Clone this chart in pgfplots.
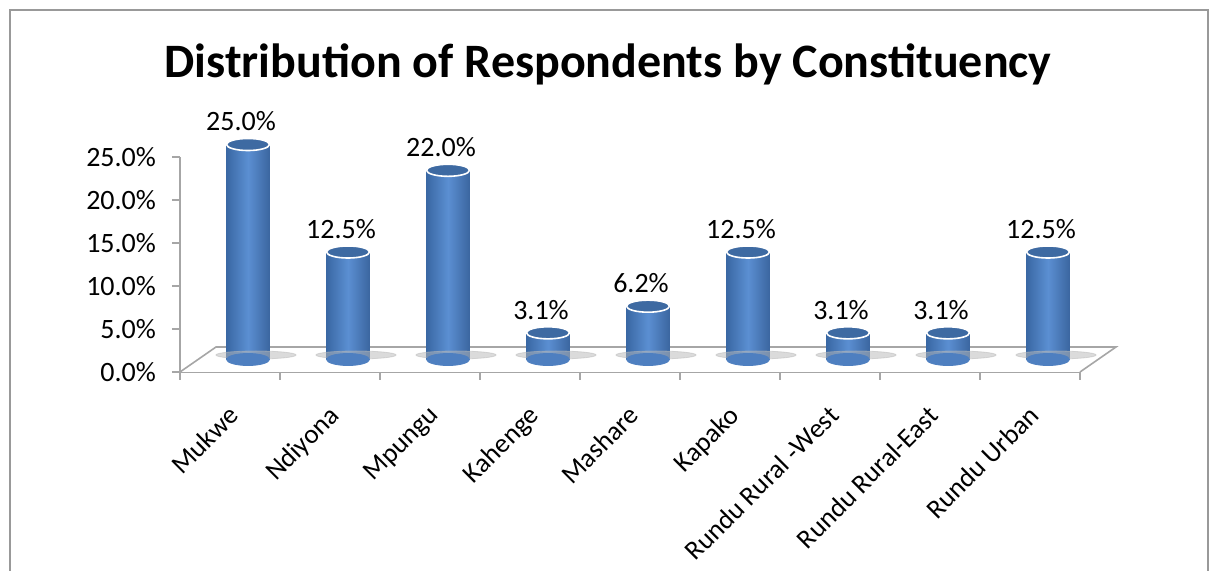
\documentclass[border=0pt]{standalone}
\usepackage{fontspec}
\setmainfont{Carlito}
\usepackage{pgfplots}
\pgfplotsset{compat=1.18}
\definecolor{barL}{HTML}{3A68A4}
\definecolor{barM}{HTML}{5B8FD2}
\definecolor{barR}{HTML}{3B66A0}
\definecolor{topC}{HTML}{3E6AA2}
\definecolor{axgray}{HTML}{A6A6A6}
\colorlet{botC}{barM!60!barL}
\colorlet{shadC}{gray!55}
\pgfplotsset{
  cyl/.style={ybar, bar width=21.5pt, bar shift=0pt, draw=none, xshift=9pt, yshift=6.25pt,
    left color=barL, right color=barR, middle color=barM},
}
\begin{document}
\begin{tikzpicture}
\useasboundingbox (-90pt,-99.5pt) rectangle (518pt,186pt);
\draw[gray!80, line width=1pt] (-85pt,-101pt) -- (-85pt,181pt) -- (514pt,181pt) -- (514pt,-101pt);
\node[font=\fontsize{24}{28}\selectfont\bfseries, anchor=base] at (214pt,147pt) {Distribution of Respondents by Constituency};
\begin{axis}[
  at={(0pt,0pt)}, anchor=south west,
  scale only axis, width=450pt, height=107.5pt,
  xmin=-0.5, xmax=8.5, ymin=0, ymax=25,
  axis lines*=left,
  axis line style={axgray, line width=0.8pt},
  tick align=outside,
  major tick length=4pt, minor tick length=4pt,
  tick style={axgray, line width=0.8pt},
  xtick={0,...,8}, minor xtick={-0.5,0.5,...,8.5},
  major x tick style={draw=none},
  xticklabels={Mukwe,Ndiyona,Mpungu,Kahenge,Mashare,Kapako,Rundu Rural -West,Rundu Rural-East,Rundu Urban},
  xticklabel style={rotate=45, anchor=north east, font=\fontsize{13.5}{16}\selectfont, xshift=-6pt, yshift=-4pt},
  ytick={0,5,...,25},
  yticklabel={\pgfmathprintnumber[fixed,fixed zerofill,precision=1]{\tick}\%},
  yticklabel style={font=\fontsize{14}{16}\selectfont, xshift=-4.5pt},
  /pgf/number format/assume math mode=true,
  clip=false,
]
% floor
\draw[axgray, line width=0.8pt, fill=white] (axis cs:-0.5,0) -- ++(18pt,12.5pt) -- ([xshift=18pt,yshift=12.5pt]axis cs:8.5,0) -- (axis cs:8.5,0);
% shadows
\addplot[only marks, mark=*, mark size=20pt, xshift=13pt, yshift=8.5pt,
  mark options={yscale=0.1, fill=shadC, draw=shadC, opacity=0.5}]
  coordinates {(0,0)(1,0)(2,0)(3,0)(4,0)(5,0)(6,0)(7,0)(8,0)};
% bottom ellipses
\addplot[only marks, mark=*, mark size=10.75pt, xshift=9pt, yshift=6.25pt,
  mark options={yscale=0.28, draw=botC, fill=botC}]
  coordinates {(0,0)(1,0)(2,0)(3,0)(4,0)(5,0)(6,0)(7,0)(8,0)};
% bars, one plot each so that each is shaded on its own
\addplot[cyl] coordinates {(0,25.0)};
\addplot[cyl] coordinates {(1,12.5)};
\addplot[cyl] coordinates {(2,22.0)};
\addplot[cyl] coordinates {(3,3.1)};
\addplot[cyl] coordinates {(4,6.2)};
\addplot[cyl] coordinates {(5,12.5)};
\addplot[cyl] coordinates {(6,3.1)};
\addplot[cyl] coordinates {(7,3.1)};
\addplot[cyl] coordinates {(8,12.5)};
% tops and labels
\addplot[only marks, mark=*, mark size=10.75pt, xshift=9pt, yshift=6.25pt,
  mark options={yscale=0.28, fill=topC, draw=white, line width=0.8pt},
  nodes near coords={\pgfmathprintnumber[fixed,fixed zerofill,precision=1]{\pgfplotspointmeta}\%},
  every node near coord/.append style={font=\fontsize{14}{16}\selectfont, text=black, xshift=-3.5pt, yshift=3pt}]
  coordinates {(0,25.0)(1,12.5)(2,22.0)(3,3.1)(4,6.2)(5,12.5)(6,3.1)(7,3.1)(8,12.5)};
\end{axis}
\end{tikzpicture}
\end{document}
